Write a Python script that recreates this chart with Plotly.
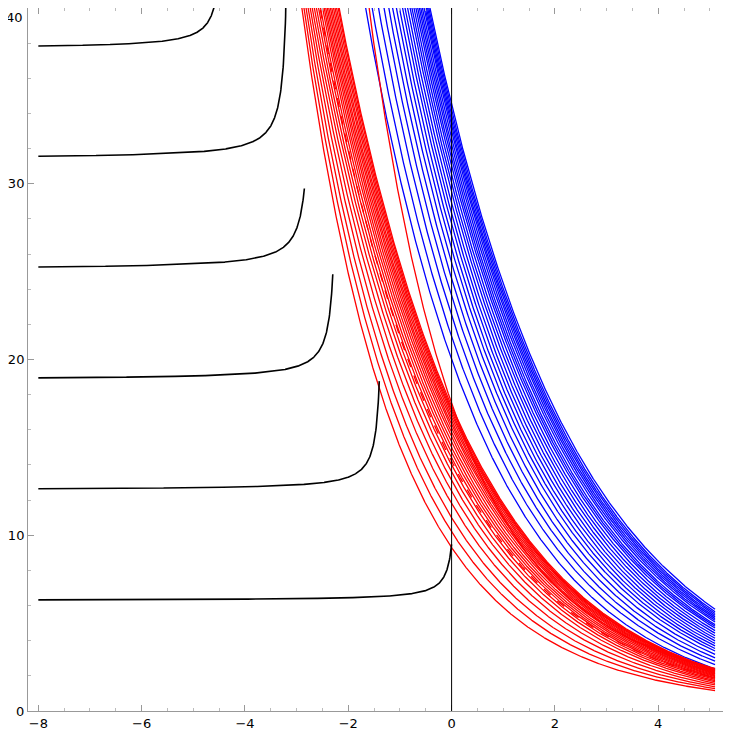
import numpy as np
import plotly.graph_objects as go

# blue family: value at x=0 and at x=5
blue_y0 = [20.0, 21.3, 22.5, 23.6, 24.6, 25.5, 26.3, 27.0, 27.7, 28.3, 28.9, 29.5, 30.0,
           30.5, 31.0, 31.4, 31.8, 32.2, 32.6, 33.0, 33.3, 33.6, 33.9, 34.2, 34.5]
blue_y5 = [2.5, 2.75, 2.95, 3.15, 3.35, 3.55, 3.7, 3.85, 4.0, 4.15, 4.3, 4.45, 4.6,
           4.75, 4.9, 5.0, 5.1, 5.25, 5.35, 5.45, 5.55, 5.65, 5.75, 5.85, 6.0]
# red family: value at x=0, at x=5, and x where it reaches y=40
red_y0 = [9.3, 10.2, 11.0, 11.8, 12.5, 13.1, 13.6, 14.0, 14.4, 14.7, 15.0, 15.3, 15.6,
          15.85, 16.1, 16.3, 16.5, 16.7, 16.9, 17.05, 17.2, 17.35, 17.5]
red_y5 = [1.2, 1.32, 1.43, 1.54, 1.64, 1.73, 1.8, 1.87, 1.93, 1.98, 2.03, 2.08, 2.13,
          2.18, 2.22, 2.26, 2.3, 2.34, 2.38, 2.41, 2.44, 2.47, 2.5]
red_x40 = [-2.9, -2.86, -2.82, -2.78, -2.74, -2.7, -2.66, -2.62, -2.58, -2.54, -2.5, -2.47,
           -2.44, -2.41, -2.38, -2.35, -2.32, -2.29, -2.26, -2.23, -2.2, -2.18, -1.6]
red_dash = (14.2, 1.95, -2.55)
# black family: left level, x where it turns vertical, rise height, shape
black_level = [6.28, 12.57, 18.85, 25.13, 31.42, 37.70]
black_xend = [0.0, -1.4, -2.3, -2.85, -3.15, -4.4]
black_rise = [3.2, 6.2, 6.0, 4.6, 30.0, 30.0]
black_s = [0.35, 0.5, 0.6, 0.7, 0.7, 0.5]

fig = go.Figure()
x = np.linspace(-8, 5.1, 1500)

for a, b in zip(blue_y0, blue_y5):
    k = np.log(a / b) / 5
    fig.add_trace(go.Scatter(x=x, y=a * np.exp(-k * x), mode="lines",
                             line=dict(color="#0000FF", width=1.3), hoverinfo="skip"))

def red_curve(a, b, x40):
    # ln y = ln a + k x + c x^2 through (5, b) and (x40, 40)
    m = np.array([[5.0, 25.0], [x40, x40 * x40]])
    k, c = np.linalg.solve(m, [np.log(b / a), np.log(40 / a)])
    return a * np.exp(k * x + c * x * x)

for a, b, x40 in zip(red_y0, red_y5, red_x40):
    fig.add_trace(go.Scatter(x=x, y=red_curve(a, b, x40), mode="lines",
                             line=dict(color="#FF0000", width=1.3), hoverinfo="skip"))
fig.add_trace(go.Scatter(x=x, y=red_curve(*red_dash), mode="lines",
                         line=dict(color="#FF0000", width=1.3, dash="dash"), hoverinfo="skip"))

for lv, xe, h, s in zip(black_level, black_xend, black_rise, black_s):
    xb = np.linspace(-8, xe, 1000)
    yb = lv + s / (xe - xb + s / h)
    fig.add_trace(go.Scatter(x=xb, y=yb, mode="lines",
                             line=dict(color="black", width=1.6), hoverinfo="skip"))

fig.add_vline(x=0, line=dict(color="black", width=1))

axis = dict(showgrid=False, zeroline=False, mirror="ticks", showline=True, linecolor="#999",
            ticks="inside", ticklen=6, tickcolor="#999", automargin=False,
            minor=dict(ticks="inside", ticklen=3, tickcolor="#bbb"),
            tickfont=dict(family="DejaVu Sans", size=13, color="black"))
fig.update_xaxes(axis, range=[-8.2, 5.37], tickvals=[-8, -6, -4, -2, 0, 2, 4],
                 ticktext=["\u22128", "\u22126", "\u22124", "\u22122", "0", "2", "4"],
                 minor_dtick=0.5)
fig.update_yaxes(axis, range=[0, 40], tickvals=[0, 10, 20, 30, 40], minor_dtick=2)
# top tick label sits on the figure edge, so draw it just below
fig.add_annotation(text="40", xref="paper", yref="y", x=0, y=40, xanchor="right",
                   yanchor="top", xshift=-3, showarrow=False,
                   font=dict(family="DejaVu Sans", size=13, color="black"))
fig.update_layout(width=723, height=729, showlegend=False, plot_bgcolor="white",
                  paper_bgcolor="white", margin=dict(l=20, r=2, t=0, b=26))
fig.write_html("out.html")
